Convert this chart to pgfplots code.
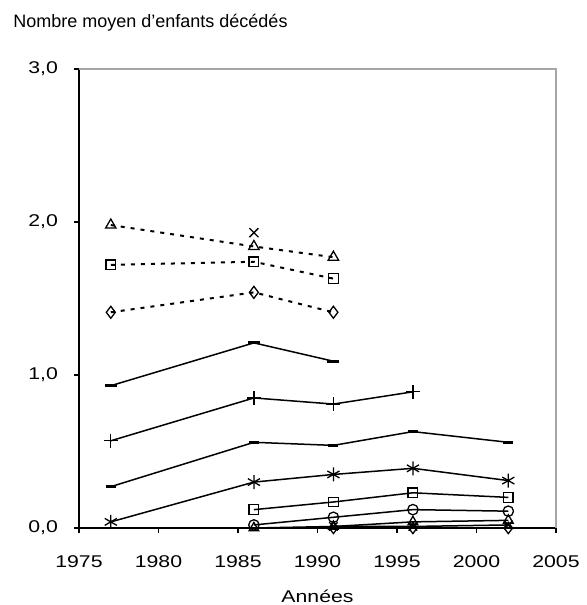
\documentclass[border=0pt]{standalone}
\usepackage{fontspec}
\setmainfont{Liberation Sans}
\newfontfamily\tickfont[FakeStretch=1.25]{Liberation Sans}
\usepackage{pgfplots}
\pgfplotsset{compat=1.18}

\begin{document}
\begin{tikzpicture}
\begin{axis}[
    scale only axis, width=238.5pt, height=229.5pt,
    xmin=1975, xmax=2005, ymin=0, ymax=3,
    xtick={1975,1980,...,2005}, ytick={0,1,2,3},
    axis x line*=bottom, axis y line*=left,
    axis line style={-, line width=0.7pt},
    tick align=outside, major tick length=2.5pt,
    tick style={black, line width=0.6pt},
    clip=false,
    tick label style={font=\tickfont\fontsize{8.5}{10}\selectfont},
    /pgf/number format/assume math mode=true,
    xticklabel style={yshift=-7.75pt, /pgf/number format/1000 sep={}},
    yticklabel style={xshift=-4.5pt, /pgf/number format/.cd, fixed, fixed zerofill, precision=1, use comma},
    xlabel={Années},
    xlabel style={font=\tickfont\fontsize{8.5}{10}\selectfont, inner sep=0pt, at={(axis description cs:0.5,0)}, anchor=base, yshift=-37pt},
    every axis plot/.append style={black, line width=0.75pt, mark options={solid, line width=0.65pt}},
]
% cadre gris en haut et a droite
\draw[gray!70, line width=0.7pt] (axis description cs:0,1) -- (axis description cs:1,1) -- (axis description cs:1,0);
\node[anchor=base west, inner sep=0pt, font=\fontsize{9}{11}\selectfont] at (axis description cs:0,1) [xshift=-33pt, yshift=20.5pt] {Nombre moyen d'enfants décédés};

% series en pointilles
\addplot[dash pattern=on 2pt off 3pt, line width=1pt, mark=triangle, mark size=3pt]
    coordinates {(1977,1.98) (1986,1.84) (1991,1.77)};
\addplot[only marks, mark=x, mark size=3.2pt]
    coordinates {(1986,1.93)};
\addplot[dash pattern=on 2pt off 3pt, line width=1pt, mark=square, mark size=2.4pt]
    coordinates {(1977,1.72) (1986,1.74) (1991,1.63)};
\addplot[dash pattern=on 2pt off 3pt, line width=1pt, mark=diamond, mark size=3pt]
    coordinates {(1977,1.41) (1986,1.54) (1991,1.41)};

% series en traits pleins
\addplot[mark=-, mark size=3pt, mark options={line width=1.5pt}]
    coordinates {(1977,0.93) (1986,1.21) (1991,1.09)};
\addplot[mark=+, mark size=3.5pt]
    coordinates {(1977,0.57) (1986,0.85) (1991,0.81) (1996,0.89)};
\addplot[mark=-, mark size=2.5pt, mark options={line width=1.3pt}]
    coordinates {(1977,0.27) (1986,0.56) (1991,0.54) (1996,0.63) (2002,0.56)};
\addplot[mark=asterisk, mark size=3.5pt]
    coordinates {(1977,0.04) (1986,0.30) (1991,0.35) (1996,0.39) (2002,0.31)};
\addplot[mark=square, mark size=2.4pt]
    coordinates {(1986,0.12) (1991,0.17) (1996,0.23) (2002,0.20)};
\addplot[mark=o, mark size=2.6pt]
    coordinates {(1986,0.02) (1991,0.07) (1996,0.12) (2002,0.11)};
\addplot[mark=triangle, mark size=2.8pt]
    coordinates {(1986,0.00) (1991,0.01) (1996,0.04) (2002,0.05)};
\addplot[mark=x, mark size=3pt]
    coordinates {(1991,0.01) (1996,0.01) (2002,0.02)};
\addplot[mark=diamond, mark size=2.8pt]
    coordinates {(1991,0.00) (1996,0.00) (2002,0.00)};

% cadre de la page
\path (axis description cs:0,0) ++(-39.5pt,-38.5pt) coordinate (bbl);
\path (axis description cs:1,1) ++(13.5pt,34.5pt) coordinate (btr);
\end{axis}
\path (bbl) rectangle (btr);
\end{tikzpicture}
\end{document}
